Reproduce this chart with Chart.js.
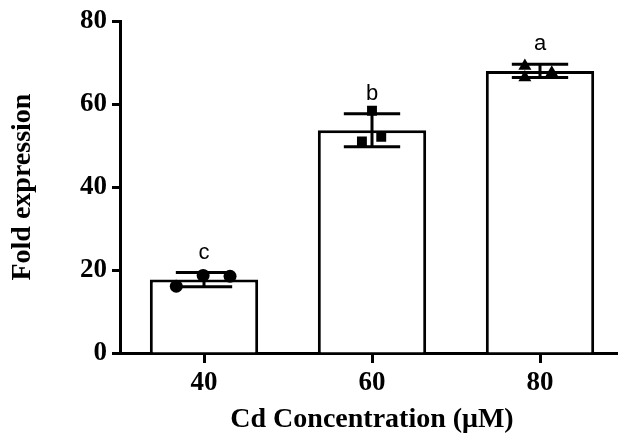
<!DOCTYPE html>
<html lang="en">
<head>
    <meta charset="UTF-8">
    <title>Fold expression vs Cd concentration</title>
    <script src="https://cdn.jsdelivr.net/npm/chart.js"></script>
    <style>
        html, body {
            margin: 0;
            padding: 0;
            background: #fff;
            overflow: hidden;
            width: 618px;
            height: 437px;
        }
        #wrap {
            position: absolute;
            left: 0;
            top: 0;
            width: 640px;
            height: 437px;
        }
    </style>
</head>
<body>
    <div id="wrap"><canvas id="myChart" width="640" height="437"></canvas></div>

    <script>
        // data
        const categories = ['40', '60', '80'];
        const means = [17.7, 53.7, 68.0];
        const sds = [1.7, 4.0, 1.6];
        const sigLetters = ['c', 'b', 'a'];

        // replicates for each concentration
        const rep40 = [16.1, 18.7, 18.5];
        const rep60 = [58.4, 51.0, 52.1];
        const rep80 = [69.2, 66.4, 67.6];
        // horizontal scatter of the replicate dots (in category units)
        const jitter40 = [-0.165, -0.005, 0.155];
        const jitter60 = [0.0, -0.06, 0.055];
        const jitter80 = [-0.09, -0.09, 0.07];

        const serif = "'Liberation Serif', 'Times New Roman', serif";

        function toPoints(vals, jit, idx) {
            return vals.map((v, i) => ({ x: idx + jit[i], y: v }));
        }

        // error bars + letters drawn right after the bars
        const errorBars = {
            id: 'errorBars',
            afterDatasetDraw(chart, args) {
                if (args.index !== 0) return;
                const ctx = chart.ctx;
                const y = chart.scales.y;
                const meta = args.meta;
                ctx.save();
                ctx.strokeStyle = '#000';
                ctx.lineWidth = 3;
                meta.data.forEach((bar, i) => {
                    const cx = bar.x;
                    const half = bar.width * 0.26;
                    const yTop = y.getPixelForValue(means[i] + sds[i]);
                    const yBot = y.getPixelForValue(means[i] - sds[i]);
                    ctx.beginPath();
                    ctx.moveTo(cx, yTop);
                    ctx.lineTo(cx, yBot);
                    ctx.moveTo(cx - half, yTop);
                    ctx.lineTo(cx + half, yTop);
                    ctx.moveTo(cx - half, yBot);
                    ctx.lineTo(cx + half, yBot);
                    ctx.stroke();

                    ctx.fillStyle = '#000';
                    ctx.font = "22px 'Liberation Sans', Arial, sans-serif";
                    ctx.textAlign = 'center';
                    ctx.textBaseline = 'alphabetic';
                    ctx.fillText(sigLetters[i], cx, yTop - 14);
                });
                ctx.restore();
            }
        };

        const ctx = document.getElementById('myChart').getContext('2d');
        const myChart = new Chart(ctx, {
            type: 'bar',
            data: {
                labels: categories,
                datasets: [
                    {
                        label: 'mean',
                        data: means,
                        backgroundColor: '#fff',
                        borderColor: '#000',
                        borderWidth: 3,
                        categoryPercentage: 1,
                        barPercentage: 0.645,
                        grouped: false,
                        order: 1
                    },
                    {
                        type: 'scatter',
                        label: '40',
                        data: toPoints(rep40, jitter40, 0),
                        xAxisID: 'xj',
                        pointStyle: 'circle',
                        pointRadius: 6.5,
                        backgroundColor: '#000',
                        borderColor: '#000',
                        borderWidth: 0,
                        order: 0
                    },
                    {
                        type: 'scatter',
                        label: '60',
                        data: toPoints(rep60, jitter60, 1),
                        xAxisID: 'xj',
                        pointStyle: 'rect',
                        pointRadius: 7,
                        backgroundColor: '#000',
                        borderColor: '#000',
                        borderWidth: 0,
                        order: 0
                    },
                    {
                        type: 'scatter',
                        label: '80',
                        data: toPoints(rep80, jitter80, 2),
                        xAxisID: 'xj',
                        pointStyle: 'triangle',
                        pointRadius: 7.5,
                        backgroundColor: '#000',
                        borderColor: '#000',
                        borderWidth: 0,
                        order: 0
                    }
                ]
            },
            options: {
                responsive: false,
                animation: false,
                layout: {
                    padding: { left: 0, right: 16, top: 20, bottom: 0 }
                },
                plugins: {
                    legend: { display: false },
                    tooltip: { enabled: false }
                },
                scales: {
                    x: {
                        type: 'category',
                        offset: true,
                        afterFit(scale) { scale.height = 84; },
                        grid: {
                            offset: false,
                            drawOnChartArea: false,
                            tickLength: 10,
                            tickWidth: 3,
                            tickColor: '#000'
                        },
                        border: { color: '#000', width: 3 },
                        ticks: {
                            color: '#000',
                            padding: 4,
                            font: { family: serif, size: 27, weight: 'bold' }
                        },
                        title: {
                            display: true,
                            text: 'Cd Concentration (\u03BCM)',
                            color: '#000',
                            padding: { top: 0, bottom: 0 },
                            font: { family: serif, size: 28, weight: 'bold' }
                        }
                    },
                    xj: {
                        type: 'linear',
                        axis: 'x',
                        position: 'bottom',
                        display: false,
                        offset: false,
                        min: -0.5,
                        max: 2.5
                    },
                    y: {
                        min: 0,
                        max: 80,
                        afterFit(scale) { scale.width = 120; },
                        grid: {
                            drawOnChartArea: false,
                            tickLength: 8,
                            tickWidth: 3,
                            tickColor: '#000'
                        },
                        border: { color: '#000', width: 3 },
                        ticks: {
                            stepSize: 20,
                            color: '#000',
                            padding: 5,
                            font: { family: serif, size: 27, weight: 'bold' }
                        },
                        title: {
                            display: true,
                            text: 'Fold expression',
                            color: '#000',
                            padding: { top: 6, bottom: 0 },
                            font: { family: serif, size: 28, weight: 'bold' }
                        }
                    }
                }
            },
            plugins: [errorBars]
        });
    </script>
</body>
</html>
